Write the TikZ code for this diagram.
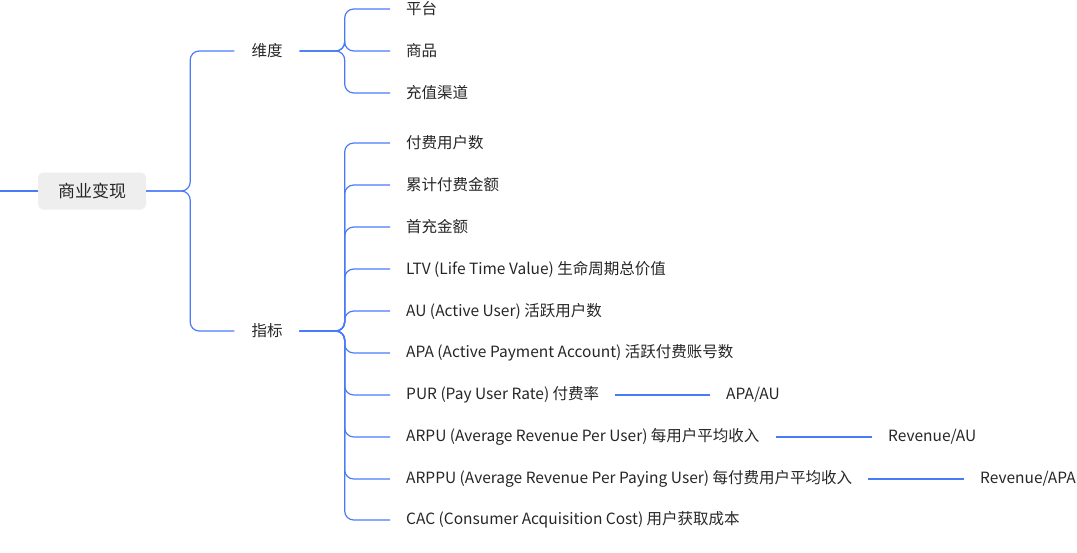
\documentclass[tikz,border=0pt]{standalone}
\usepackage{fontspec}
\setmainfont{Noto Sans CJK SC}
\begin{document}
\begin{tikzpicture}[x=1pt,y=-1pt,
  every node/.style={font=\fontsize{15.5}{17}\selectfont, text=black!85},
  conn/.style={draw={rgb,255:red,74;green,123;blue,247}, line width=1.2pt, rounded corners=9pt},
  leaf/.style={anchor=west, inner xsep=16pt, inner ysep=2pt},
  mid/.style={inner xsep=17pt, inner ysep=2pt},
  rootbox/.style={fill={rgb,255:red,238;green,238;blue,238}, rounded corners=5pt, minimum width=108pt, minimum height=37pt, font=\fontsize{17}{19}\selectfont}]
\useasboundingbox (0,0) rectangle (1077,552);
\coordinate (L) at (0,191);
\node[rootbox] (root) at (92,191) {商业变现};
\node[mid] (wd) at (267,51) {维度};
\node[mid] (zb) at (267,331) {指标};
\draw[conn] (L) -- (root.west);
\draw[conn] (root.east) -- ++(44,0) |- (wd.west);
\draw[conn] (root.east) -- ++(44,0) |- (zb.west);
\foreach \n/\y/\t in {a/9/平台, b/51/商品, c/93/充值渠道}{
  \node[leaf] (\n) at (390,\y) {\t};
  \draw[conn] (wd.east) -- ++(45,0) |- (\n.west);
}
\foreach \n/\y/\t in {
  k1/143/付费用户数,
  k2/185/累计付费金额,
  k3/227/首充金额,
  k4/269/{LTV (Life Time Value) 生命周期总价值},
  k5/311/{AU (Active User) 活跃用户数},
  k6/353/{APA (Active Payment Account) 活跃付费账号数},
  k7/395/{PUR (Pay User Rate) 付费率},
  k8/437/{ARPU (Average Revenue Per User) 每用户平均收入},
  k9/479/{ARPPU (Average Revenue Per Paying User) 每付费用户平均收入},
  k10/520/{CAC (Consumer Acquisition Cost) 用户获取成本}}{
  \node[leaf] (\n) at (390,\y) {\t};
  \draw[conn] (zb.east) -- ++(45,0) |- (\n.west);
}
\node[leaf] (f7) at (710,395) {APA/AU};
\node[leaf] (f8) at (872,437) {Revenue/AU};
\node[leaf] (f9) at (964,479) {Revenue/APA};
\draw[conn] (k7.east) -- (f7.west);
\draw[conn] (k8.east) -- (f8.west);
\draw[conn] (k9.east) -- (f9.west);
\end{tikzpicture}
\end{document}
